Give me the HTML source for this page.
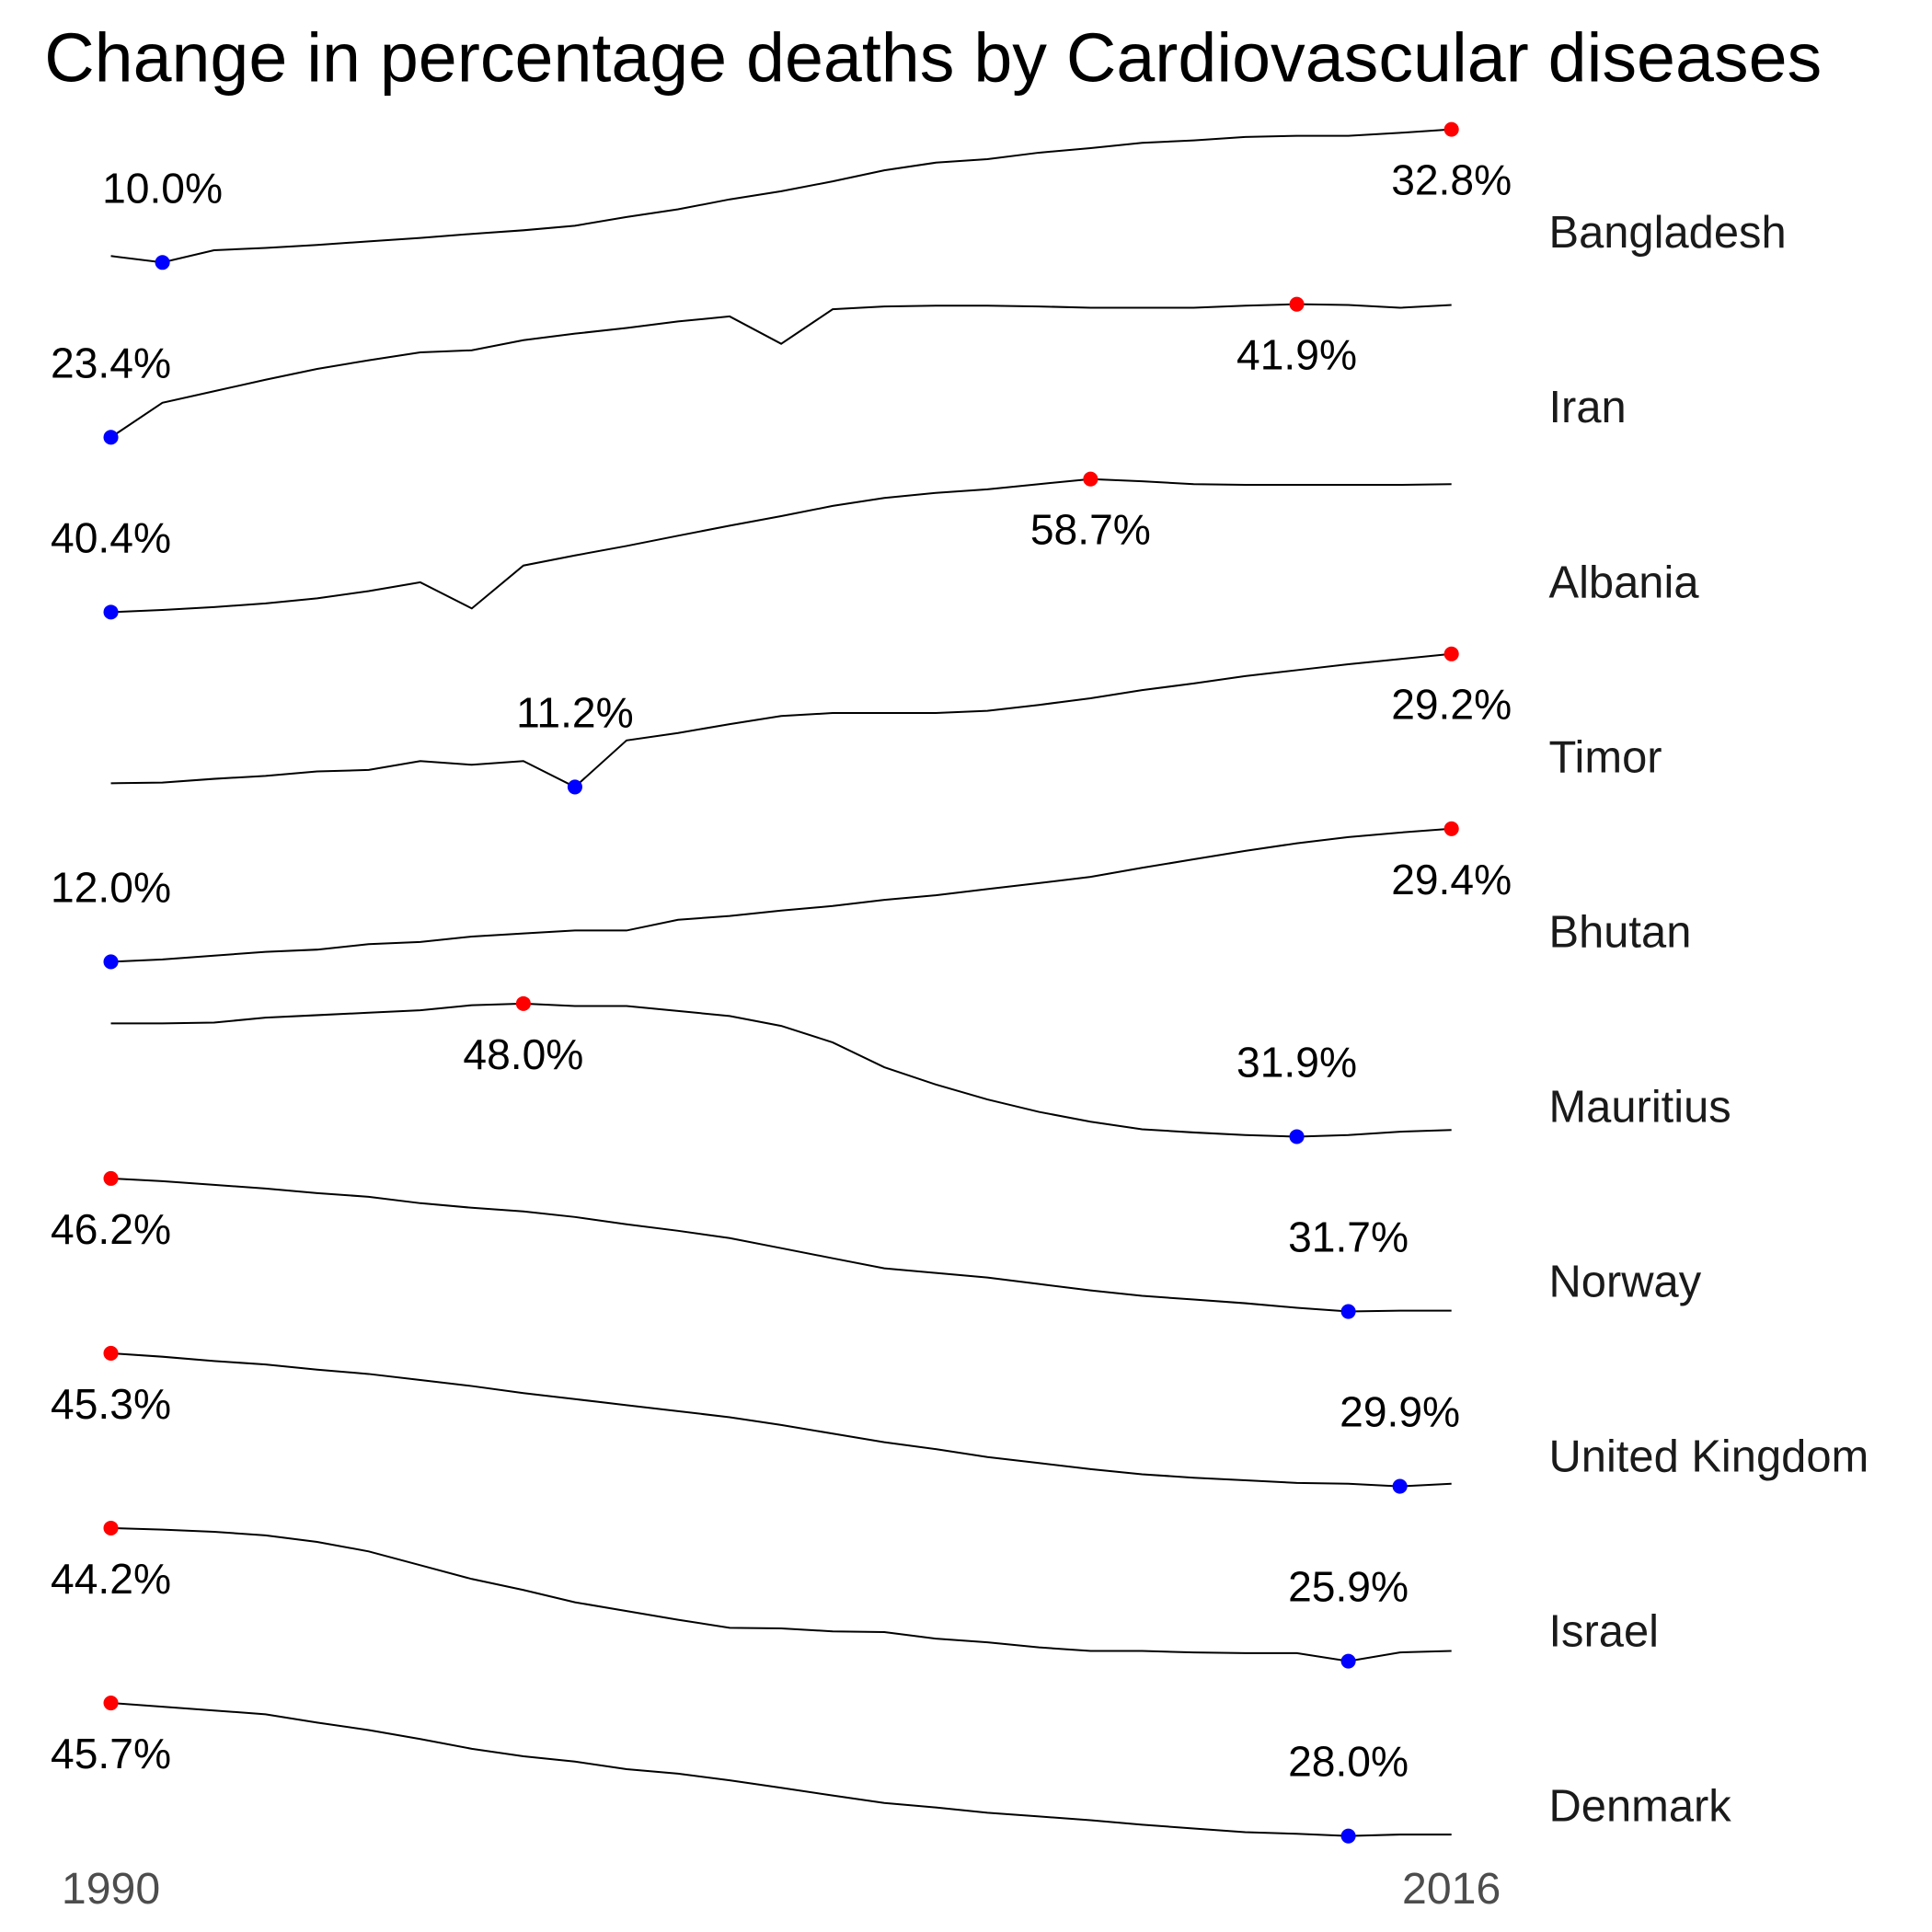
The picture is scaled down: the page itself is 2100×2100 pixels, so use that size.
<!DOCTYPE html>
<html><head><meta charset="utf-8">
<style>html,body{margin:0;padding:0;background:#fff}svg{display:block}</style>
</head><body>
<svg id="chart" width="2100" height="2100" viewBox="0 0 1568 1568" xmlns="http://www.w3.org/2000/svg" font-family="Liberation Sans, sans-serif">
<rect width="1568" height="1568" fill="#fff"/>
<text x="36" y="66" font-size="56.3" fill="#000">Change in percentage deaths by Cardiovascular diseases</text>
<text x="90" y="1545" font-size="36" fill="#4d4d4d" text-anchor="middle">1990</text>
<text x="1178" y="1545" font-size="36" fill="#4d4d4d" text-anchor="middle">2016</text>
<g id="panels"></g>
</svg>
<script>
const years = Array.from({length:27},(_,i)=>1990+i);
const countries = ["Bangladesh","Iran","Albania","Timor","Bhutan","Mauritius","Norway","United Kingdom","Israel","Denmark"];
const bangladesh = [11.1,10.0,12.1,12.5,13.0,13.6,14.2,14.9,15.5,16.3,17.8,19.1,20.8,22.2,23.9,25.8,27.1,27.7,28.8,29.6,30.5,30.9,31.5,31.7,31.7,32.2,32.8];
const iran = [23.4,28.2,29.8,31.4,32.9,34.1,35.2,35.5,36.9,37.8,38.6,39.5,40.2,36.4,41.2,41.6,41.7,41.7,41.6,41.4,41.4,41.4,41.7,41.9,41.8,41.4,41.8];
const albania = [40.4,40.7,41.1,41.6,42.3,43.3,44.5,40.9,46.8,48.2,49.5,50.9,52.3,53.6,55.0,56.1,56.8,57.3,58.0,58.7,58.4,58.0,57.9,57.9,57.9,57.9,58.0];
const timor = [11.7,11.8,12.3,12.7,13.3,13.5,14.7,14.2,14.7,11.2,17.5,18.5,19.7,20.8,21.2,21.2,21.2,21.5,22.3,23.2,24.3,25.2,26.2,27.0,27.8,28.5,29.2];
const bhutan = [12.0,12.3,12.8,13.3,13.6,14.3,14.6,15.3,15.7,16.1,16.1,17.5,18.0,18.7,19.3,20.1,20.7,21.5,22.3,23.1,24.3,25.4,26.5,27.5,28.3,28.9,29.4];
const mauritius = [45.6,45.6,45.7,46.3,46.6,46.9,47.2,47.8,48.0,47.7,47.7,47.1,46.5,45.3,43.3,40.3,38.2,36.4,34.9,33.7,32.8,32.4,32.1,31.9,32.1,32.5,32.7];
const norway = [46.2,45.9,45.5,45.1,44.6,44.2,43.5,43.0,42.6,42.0,41.2,40.5,39.7,38.6,37.5,36.4,35.9,35.4,34.7,34.0,33.4,33.0,32.6,32.1,31.7,31.8,31.8];
const uk = [45.3,44.9,44.4,44.0,43.4,42.9,42.2,41.5,40.7,40.0,39.3,38.6,37.9,37.0,36.0,35.0,34.2,33.3,32.6,31.9,31.3,30.9,30.6,30.3,30.2,29.9,30.2];
const israel = [44.2,44.0,43.7,43.2,42.3,41.0,39.1,37.2,35.7,34.0,32.8,31.6,30.5,30.4,30.0,29.9,29.0,28.5,27.8,27.3,27.3,27.1,27.0,27.0,25.9,27.1,27.3];
const denmark = [45.7,45.2,44.7,44.2,43.1,42.1,40.9,39.6,38.6,37.9,36.9,36.3,35.4,34.4,33.4,32.4,31.8,31.1,30.6,30.1,29.5,29.0,28.5,28.3,28.0,28.2,28.2];
const series = [bangladesh,iran,albania,timor,bhutan,mauritius,norway,uk,israel,denmark];

const NS="http://www.w3.org/2000/svg";
const g=document.getElementById('panels');
function xScale(year){return 90+(year-1990)*(1178-90)/26;}
function mk(tag,attrs){const e=document.createElementNS(NS,tag);for(const k in attrs)e.setAttribute(k,attrs[k]);return e;}
series.forEach((vals,i)=>{
  const bottom=213+141.9*i, top=bottom-108;
  const mn=Math.min(...vals), mx=Math.max(...vals);
  const yScale=v=>bottom-(v-mn)/(mx-mn||1)*(bottom-top);
  const slug=countries[i].toLowerCase().replace(/ /g,'-');
  const pg=mk('g',{});
  
  
  const d=vals.map((v,j)=>(j?'L':'M')+xScale(years[j]).toFixed(1)+','+yScale(v).toFixed(1)).join(' ');
  const path=mk('path',{d:d,fill:'none',stroke:'#000','stroke-width':1.5});
  
  
  pg.appendChild(path);
  const imin=vals.indexOf(mn), imax=vals.indexOf(mx);
  const pmin=mk('circle',{cx:xScale(years[imin]),cy:yScale(mn),r:6,fill:'#0000ff'});
  
  
  pg.appendChild(pmin);
  const pmax=mk('circle',{cx:xScale(years[imax]),cy:yScale(mx),r:6,fill:'#ff0000'});
  
  
  pg.appendChild(pmax);
  const tmin=mk('text',{x:xScale(years[imin]),y:yScale(mn)-48.5,'font-size':34.5,'text-anchor':'middle',fill:'#000'});
  tmin.textContent=mn.toFixed(1)+'%';
  
  
  pg.appendChild(tmin);
  const tmax=mk('text',{x:xScale(years[imax]),y:yScale(mx)+53,'font-size':34.5,'text-anchor':'middle',fill:'#000'});
  tmax.textContent=mx.toFixed(1)+'%';
  
  
  pg.appendChild(tmax);
  const cl=mk('text',{x:1257,y:bottom-12,'font-size':36.5,fill:'#1a1a1a'});
  cl.textContent=countries[i];
  
  
  pg.appendChild(cl);
  g.appendChild(pg);
});
</script>
</body></html>
